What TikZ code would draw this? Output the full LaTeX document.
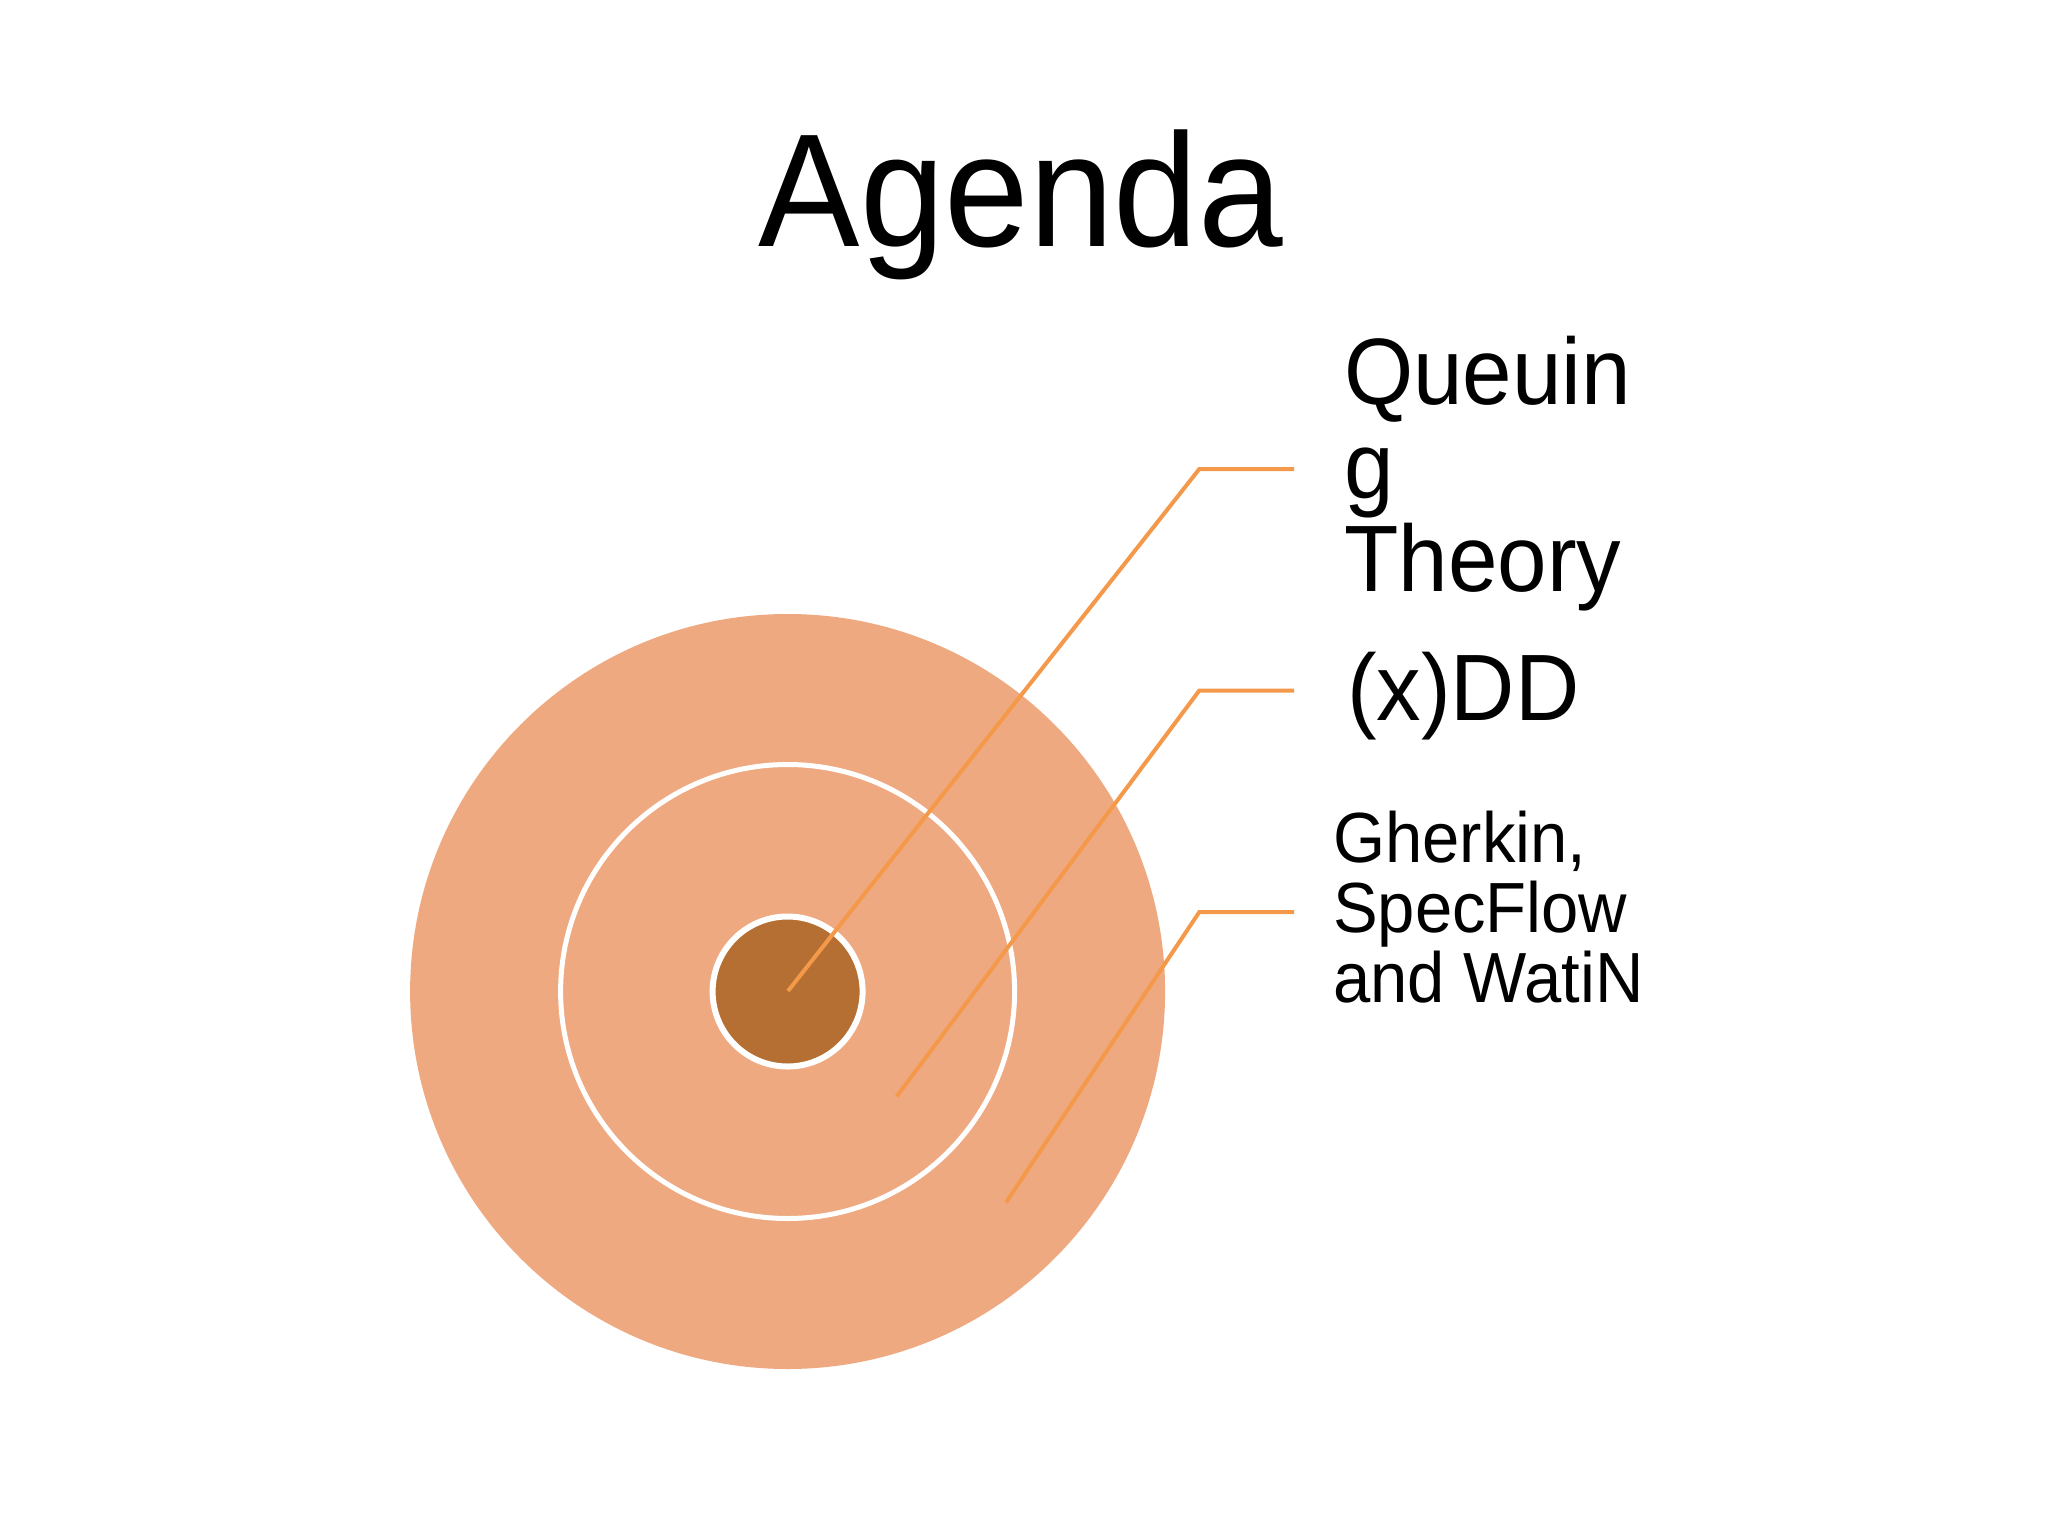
\documentclass[tikz,border=0pt]{standalone}
\usepackage{fontspec}
\usepackage{graphicx}
\setmainfont{Liberation Sans}
\definecolor{ringfill}{HTML}{EFA980}
\definecolor{corefill}{HTML}{B56F32}
\definecolor{leader}{HTML}{F4994A}
\newcommand{\tallish}[1]{\scalebox{1}[1.06]{#1}}
\tikzset{
  disc/.style={circle, inner sep=0pt, draw=none},
  leaderline/.style={draw=leader, line width=4pt, line cap=butt, line join=miter},
  bigtxt/.style={anchor=base west, inner sep=0pt, font=\fontsize{89}{93}\selectfont},
  smalltxt/.style={anchor=base west, inner sep=0pt, font=\fontsize{67}{70}\selectfont},
}
\begin{document}
\begin{tikzpicture}[x=1pt,y=-1pt]
\useasboundingbox[fill=white] (0,0) rectangle (2048,1536);
% title
\node[anchor=base, inner sep=0pt, font=\fontsize{152}{152}\selectfont] (title) at (1021,246) {\tallish{Agenda}};
% circles
\node[disc, fill=ringfill, minimum size=755pt] (outer) at (787.6,991.5) {};
\node[disc, fill=ringfill, draw=white, line width=5pt, minimum size=454pt] (middle) at (787.6,991.5) {};
\node[disc, fill=corefill, draw=white, line width=6pt, minimum size=150pt] (core) at (787.6,991.5) {};
% leader anchor points
\coordinate (p1) at (788,991);
\coordinate (k1) at (1199.3,469);
\coordinate (e1) at (1294,469);
\coordinate (p2) at (896.7,1096.5);
\coordinate (k2) at (1199.3,690.5);
\coordinate (e2) at (1294,690.5);
\coordinate (p3) at (1006,1202.5);
\coordinate (k3) at (1199.3,912);
\coordinate (e3) at (1294,912);
\draw[leaderline] (p1) -- (k1) -- (e1);
\draw[leaderline] (p2) -- (k2) -- (e2);
\draw[leaderline] (p3) -- (k3) -- (e3);
% labels
\node[bigtxt] (q1) at (1344,404) {\tallish{Queuin}};
\node[bigtxt] (q2) at (1344,498) {\tallish{g}};
\node[bigtxt] (q3) at (1344,591) {\tallish{Theory}};
\node[bigtxt] (x1) at (1347,720) {\tallish{(x)DD}};
\node[smalltxt] (g1) at (1333,862.7) {\tallish{Gherkin,}};
\node[smalltxt] (g2) at (1333,932.7) {\tallish{SpecFlow}};
\node[smalltxt] (g3) at (1333,1002.7) {\tallish{and WatiN}};
\end{tikzpicture}
\end{document}
